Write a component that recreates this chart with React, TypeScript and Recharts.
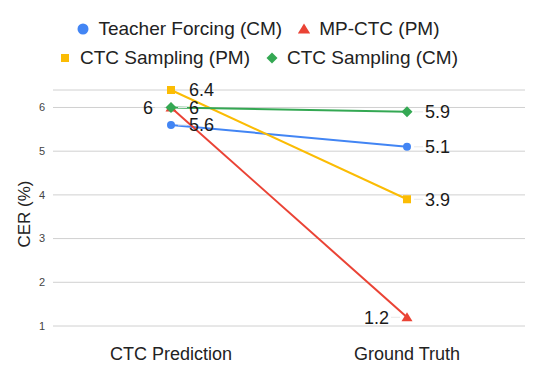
import { LineChart, Line, XAxis, YAxis, CartesianGrid, Legend, LabelList } from 'recharts'

const categories = ['CTC Prediction', 'Ground Truth']
const teacherForcingCM = [5.6, 5.1]
const mpCtcPM = [6, 1.2]
const ctcSamplingPM = [6.4, 3.9]
const ctcSamplingCM = [6, 5.9]
const yTicks = [1, 2, 3, 4, 5, 6]

const data = categories.map((name, i) => ({
    name,
    tf: teacherForcingCM[i],
    mp: mpCtcPM[i],
    spm: ctcSamplingPM[i],
    scm: ctcSamplingCM[i],
}))

const FONT = '"Liberation Sans", Arial, sans-serif'
const BLUE = '#4285F4'
const RED = '#EA4335'
const YELLOW = '#FBBC04'
const GREEN = '#34A853'

type Shape = 'circle' | 'triangle' | 'square' | 'diamond'

function marker(shape: Shape, cx: number, cy: number, s: number, color: string, key?: any) {
    if (shape === 'circle') return <circle key={key} cx={cx} cy={cy} r={s} fill={color} />
    if (shape === 'square') return <rect key={key} x={cx - s} y={cy - s} width={s * 2} height={s * 2} fill={color} />
    if (shape === 'triangle')
        return <path key={key} d={`M${cx},${cy - s}L${cx + s * 1.1},${cy + s * 0.8}L${cx - s * 1.1},${cy + s * 0.8}Z`} fill={color} />
    return <path key={key} d={`M${cx},${cy - s}L${cx + s},${cy}L${cx},${cy + s}L${cx - s},${cy}Z`} fill={color} />
}

const dotOf = (shape: Shape, size: number, color: string) => (p: any) =>
    marker(shape, p.cx, p.cy, size, color, `${shape}-${p.index}`)

const labelOf = (side: 'left' | 'right') => (p: any) => {
    const { x, y, value } = p
    const dir = side === 'right' ? 1 : -1
    return (
        <g>
            <line x1={x + dir * 7} x2={x + dir * 16} y1={y} y2={y} stroke="#e8e8e8" />
            <text x={x + dir * 18} y={y} dy="0.36em" textAnchor={side === 'right' ? 'start' : 'end'}
                fontSize={18} fill="#1a1a1a" fontFamily={FONT}>{value}</text>
        </g>
    )
}

const legendRows: { name: string; shape: Shape; color: string; size: number }[][] = [
    [
        { name: 'Teacher Forcing (CM)', shape: 'circle', color: BLUE, size: 12 },
        { name: 'MP-CTC (PM)', shape: 'triangle', color: RED, size: 12 },
    ],
    [
        { name: 'CTC Sampling (PM)', shape: 'square', color: YELLOW, size: 12 },
        { name: 'CTC Sampling (CM)', shape: 'diamond', color: GREEN, size: 12 },
    ],
]

const iconSizes: Record<Shape, number> = { circle: 5.5, triangle: 5.5, square: 4, diamond: 5.5 }

function ChartLegend() {
    return (
        <div style={{ height: 58, fontFamily: FONT, fontSize: 19, color: '#222', transform: 'translateX(-4px)' }}>
            {legendRows.map((row, r) => (
                <div key={r} style={{ height: 29, display: 'flex', justifyContent: 'center', alignItems: 'center' }}>
                    {row.map((it, i) => (
                        <div key={it.name} style={{ display: 'flex', alignItems: 'center', marginLeft: i ? 16 : 0 }}>
                            <svg width={12} height={12} style={{ marginRight: 9 }}>
                                {marker(it.shape, 6, 6, iconSizes[it.shape], it.color)}
                            </svg>
                            <span>{it.name}</span>
                        </div>
                    ))}
                </div>
            ))}
        </div>
    )
}

export default function App() {
    return (
        <div style={{ position: 'absolute', left: 0, top: 0, background: '#fff' }}>
            <LineChart width={543} height={374} data={data}
                margin={{ top: 32, right: 18, bottom: 8, left: 0 }} style={{ fontFamily: FONT }}>
                <CartesianGrid vertical={false} stroke="#d0d0d0" />
                <XAxis dataKey="name" padding={{ left: 118, right: 118 }} height={40}
                    axisLine={false} tickLine={false} tickSize={0} tickMargin={21}
                    tick={{ fontSize: 18, fill: '#222', fontFamily: FONT }} />
                <YAxis type="number" domain={[1, 6.4]} ticks={yTicks} width={53}
                    axisLine={false} tickLine={false} tickSize={0} tickMargin={8}
                    tick={{ fontSize: 11, fill: '#444', fontFamily: FONT }}
                    label={{
                        content: (p: any) => {
                            const vb = p.viewBox
                            const cx = vb.x + 24
                            const cy = vb.y + vb.height / 2 + 6
                            return (
                                <text x={cx} y={cy} dy="0.36em" textAnchor="middle" transform={`rotate(-90 ${cx} ${cy})`}
                                    fontSize={17} fill="#222" fontFamily={FONT}>CER (%)</text>
                            )
                        },
                    }} />
                <Legend verticalAlign="top" content={() => <ChartLegend />} wrapperStyle={{ top: 14 }} />
                <Line dataKey="tf" name="Teacher Forcing (CM)" stroke={BLUE} strokeWidth={2}
                    dot={dotOf('circle', 4, BLUE)} isAnimationActive={false}>
                    <LabelList dataKey="tf" content={labelOf('right')} />
                </Line>
                <Line dataKey="mp" name="MP-CTC (PM)" stroke={RED} strokeWidth={2}
                    dot={dotOf('triangle', 5, RED)} isAnimationActive={false}>
                    <LabelList dataKey="mp" content={labelOf('left')} />
                </Line>
                <Line dataKey="spm" name="CTC Sampling (PM)" stroke={YELLOW} strokeWidth={2}
                    dot={dotOf('square', 4, YELLOW)} isAnimationActive={false}>
                    <LabelList dataKey="spm" content={labelOf('right')} />
                </Line>
                <Line dataKey="scm" name="CTC Sampling (CM)" stroke={GREEN} strokeWidth={2}
                    dot={dotOf('diamond', 5.5, GREEN)} isAnimationActive={false}>
                    <LabelList dataKey="scm" content={labelOf('right')} />
                </Line>
            </LineChart>
        </div>
    )
}
